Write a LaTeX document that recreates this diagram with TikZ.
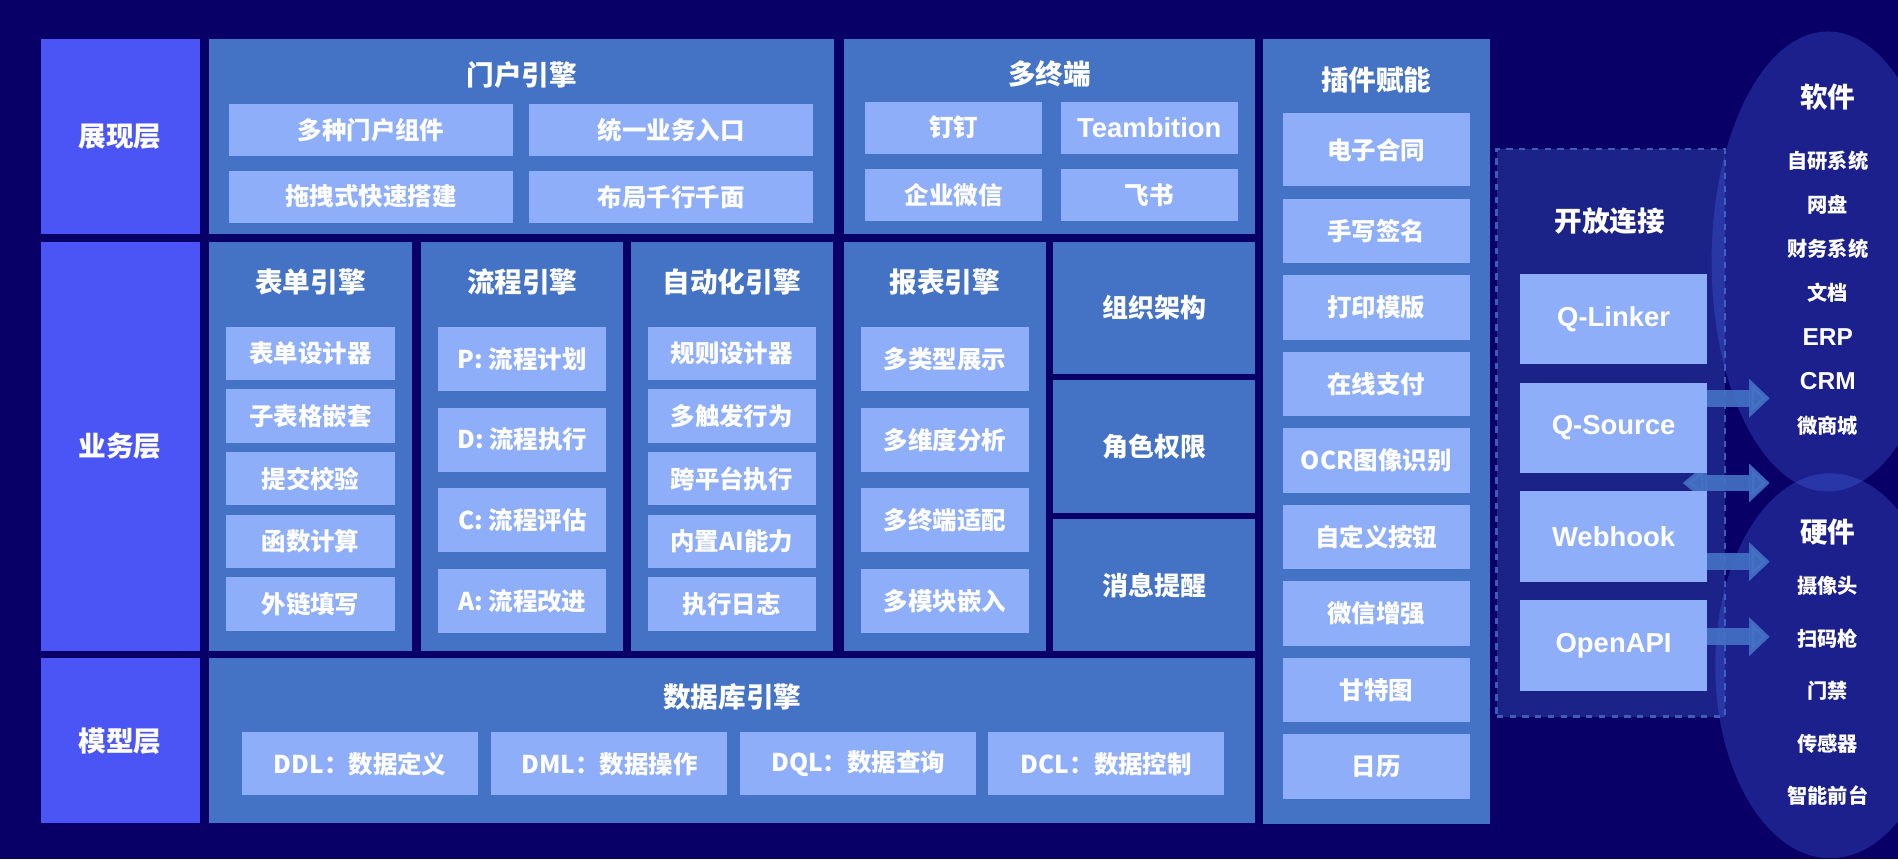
\documentclass[tikz,border=0pt]{standalone}
\usepackage{fontspec}
\setmainfont{Noto Sans CJK SC}
\newfontfamily\latin{Liberation Sans}
\usetikzlibrary{arrows.meta,shapes.geometric,backgrounds}
\definecolor{bgc}{HTML}{080066}
\definecolor{layc}{HTML}{4B55F6}
\definecolor{engc}{HTML}{4472C4}
\definecolor{subc}{HTML}{8FAEFA}
\definecolor{openc}{HTML}{1B2288}
\definecolor{dashc}{HTML}{3E5CB8}
\definecolor{ellc}{HTML}{4A6AE8}
\definecolor{arrc}{HTML}{4472C4}
\newcommand\lt{\latin\fontsize{11.5}{13}\selectfont}

\begin{document}
\begin{tikzpicture}[
            x=0.02cm, y=-0.02cm,
            bw/.style={minimum width=#1*0.02cm},
            bh/.style={minimum height=#1*0.02cm},
            lay/.style={fill=layc, text=white, inner sep=0,
              font=\bfseries\fontsize{13}{15}\selectfont},
            pane/.style={fill=engc, text=white, inner sep=0,
              font=\bfseries\fontsize{12.2}{14}\selectfont},
            ttl/.style={text=white, font=\bfseries\fontsize{13}{15}\selectfont},
            sub/.style={fill=subc, text=white, inner sep=0,
              font=\bfseries\fontsize{11.5}{13}\selectfont},
            lsub/.style={sub, font=\latin\bfseries\fontsize{12.9}{15}\selectfont},
            itm/.style={text=white, font=\bfseries\fontsize{9.5}{11}\selectfont},
            arr/.style={draw=arrc, opacity=0.9, line width=0.28cm,
              -{Triangle[length=0.34cm,width=0.62cm]}}
        ]
    \useasboundingbox (0,0) rectangle (1568,710);

    % layers
    \foreach \n/\y/\h/\t in {show/113/161/展现层, biz/368.75/337.5/业务层, model/612/136/模型层}
        \node[lay, bw=131.5, bh=\h] (\n) at (99.25,\y) {\t};

    % presentation
    \node[pane, bw=516, bh=161] (portal) at (431,113) {};
    \node[ttl] (portal-t) at (431,62) {门户引擎};
    \foreach \n/\x/\y/\t in {p1/306.5/107.5/多种门户组件, p2/554.5/107.5/统一业务入口,
                             p3/306.5/162.5/拖拽式快速搭建, p4/554.5/162.5/布局千行千面}
        \node[sub, bw=235, bh=43] (\n) at (\x,\y) {\t};

    \node[pane, bw=340, bh=161] (term) at (867,113) {};
    \node[ttl] (term-t) at (867,61) {多终端};
    \foreach \n/\x/\y/\t in {t1/788/105.5/钉钉, t3/788/161/企业微信, t4/949.5/161/飞书}
        \node[sub, bw=146, bh=43] (\n) at (\x,\y) {\t};
    \node[lsub, bw=146, bh=43] (t2) at (949.5,105.5) {Teambition};

    % plugins
    \node[pane, bw=188, bh=648] (plug) at (1137,356.5) {};
    \node[ttl] (plug-t) at (1137,66) {插件赋能};
    \node[sub, bw=154, bh=60.5] (plug0) at (1137,123.75) {电子合同};
    \foreach \t [count=\k] in {手写签名, 打印模版, 在线支付, OCR图像识别, 自定义按钮, 微信增强, 甘特图, 日历}
        \node[sub, bw=154, bh=53.5] (plug\k) at (1137,{127.55+63.2*\k}) {\t};

    % business
    \foreach \x/\n/\t/\lst in {256.5/form/表单引擎/{表单设计器,子表格嵌套,提交校验,函数计算,外链填写},
                              604.5/auto/自动化引擎/{规则设计器,多触发行为,跨平台执行,内置AI能力,执行日志}} {
        \node[pane, bw=167, bh=337.5] (\n) at (\x,368.75) {};
        \node[ttl] (\n-t) at (\x,233) {\t};
        \foreach \s [count=\k] in \lst
            \node[sub, bw=139, bh=44] (\n\k) at (\x,{240.25+51.75*\k}) {\s};
    }
    \foreach \x/\n/\t/\lst in {431.5/flow/流程引擎/{P: 流程计划,D: 流程执行,C: 流程评估,A: 流程改进},
                              780.5/rep/报表引擎/{多类型展示,多维度分析,多终端适配,多模块嵌入}} {
        \node[pane, bw=167, bh=337.5] (\n) at (\x,368.75) {};
        \node[ttl] (\n-t) at (\x,233) {\t};
        \foreach \s [count=\k] in \lst
            \node[sub, bw=139, bh=53] (\n\k) at (\x,{229.8+66.7*\k}) {\s};
    }
    \foreach \n/\y/\h/\t in {org/254.5/109/组织架构, role/369/110/角色权限, msg/483.5/109/消息提醒}
        \node[pane, bw=167, bh=\h] (\n) at (953.5,\y) {\t};

    % model
    \node[pane, bw=864, bh=136] (db) at (605,612) {};
    \node[ttl] (db-t) at (605,576) {数据库引擎};
    \foreach \x/\t [count=\k] in {297.5/DDL：数据定义, 503.5/DML：数据操作, 709/DQL：数据查询, 914/DCL：数据控制}
        \node[sub, bw=195, bh=52] (db\k) at (\x,631) {\t};

    % open connection
    \node[ttl] (open-t) at (1330,183) {开放连接};
    \foreach \n/\t [count=\k] in {ql/Q-Linker, qs/Q-Source, wh/Webhook, oa/OpenAPI}
        \node[lsub, bw=154, bh=75] (\n) at (1333,{173.5+90*\k}) {\t};

    \node[ttl] (soft-t) at (1510,80) {软件};
    \foreach \t [count=\k] in {自研系统, 网盘, 财务系统, 文档, {\lt ERP}, {\lt CRM}, 微商城}
        \node[itm] (sw\k) at (1510,{96.6+36.4*\k}) {\t};
    \node[ttl] (hard-t) at (1510,439.5) {硬件};
    \foreach \t [count=\k] in {摄像头, 扫码枪, 门禁, 传感器, 智能前台}
        \node[itm] (hw\k) at (1510,{440.6+43.4*\k}) {\t};

    \begin{scope}[on background layer]
        \fill[bgc] (0,0) rectangle (1568,710);
        \node[draw=dashc, dashed, line width=1.2pt, fill=openc, inner sep=0,
              bw=188.5, bh=469] (open) at (1330.75,357.5) {};
        \node[ellipse, fill=ellc, fill opacity=0.3, inner sep=0, bw=192, bh=380] (soft) at (1510,216) {};
        \node[ellipse, fill=ellc, fill opacity=0.3, inner sep=0, bw=190, bh=318] (hard) at (1512,550) {};
        \coordinate (e1) at (1462,329);
        \coordinate (e2) at (1462,399);
        \coordinate (s2) at (1390,399);
        \coordinate (e3) at (1462,464);
        \coordinate (e4) at (1462,526);
        \draw[arr] (qs.east |- e1) -- (e1);
        \draw[arr, {Triangle[length=0.4cm,width=0.62cm]}-{Triangle[length=0.34cm,width=0.62cm]}] (s2) -- (e2);
        \draw[arr] (wh.east |- e3) -- (e3);
        \draw[arr] (oa.east |- e4) -- (e4);
    \end{scope}
\end{tikzpicture}
\end{document}
